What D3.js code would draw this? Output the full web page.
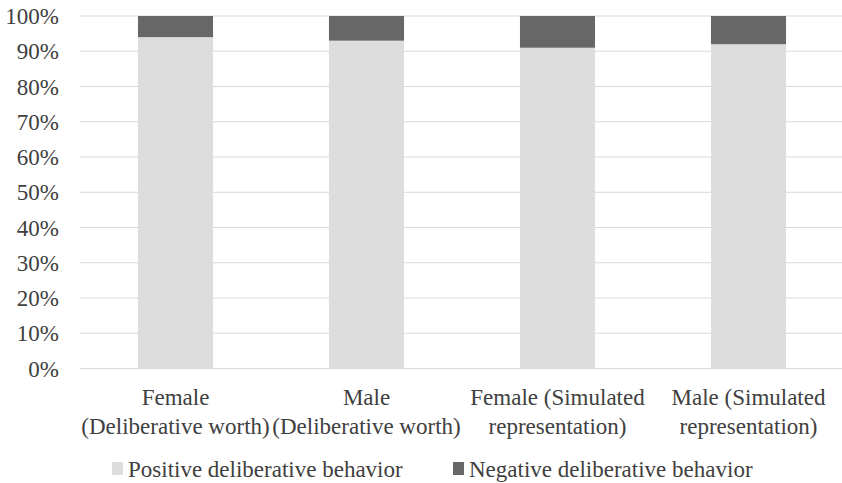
<!DOCTYPE html>
<html>
<head>
<meta charset="utf-8">
<script src="https://cdn.jsdelivr.net/npm/d3@7"></script>
<style>
  body { margin: 0; background: #fff; }
  svg text { fill: #404040; }
</style>
</head>
<body>
<svg id="chart" width="842" height="483"></svg>
<script>
// data
const categories = [
    ["Female", "(Deliberative worth)"],
    ["Male", "(Deliberative worth)"],
    ["Female (Simulated", "representation)"],
    ["Male (Simulated", "representation)"]
];
const positive = [94, 93, 91, 92];
const negative = [6, 7, 9, 8];
const seriesNames = ["Positive deliberative behavior", "Negative deliberative behavior"];
const seriesColors = ["#dddddd", "#676767"];
const yTicks = [0, 10, 20, 30, 40, 50, 60, 70, 80, 90, 100];

const FONT = "'Liberation Serif', 'Times New Roman', Tinos, 'DejaVu Serif', serif";

const svg = d3.select("#chart").attr("font-family", FONT);
const margin = { top: 16, left: 80, right: -2, bottom: 114.5 };
const width = 842 - margin.left - margin.right,
    height = 483 - margin.top - margin.bottom;

const g = svg.append("g").attr("transform", `translate(${margin.left},${margin.top})`);

const x = d3.scaleBand()
    .domain(d3.range(categories.length))
    .range([0, width])
    .paddingInner(0.607)
    .paddingOuter(0.3035);

const y = d3.scaleLinear().domain([0, 100]).range([height, 0]);

// gridlines
g.selectAll("line.grid")
    .data(yTicks)
    .join("line")
    .attr("class", "grid")
    .attr("x1", 0).attr("x2", width)
    .attr("y1", d => y(d)).attr("y2", d => y(d))
    .attr("stroke", "#d9d9d9")
    .attr("stroke-width", 1.2);

// y tick labels
g.selectAll("text.ytick")
    .data(yTicks)
    .join("text")
    .attr("class", "ytick")
    .attr("x", -21)
    .attr("y", d => y(d))
    .attr("dy", "0.35em")
    .attr("text-anchor", "end")
    .attr("font-family", FONT)
    .attr("font-size", 23)
    .text(d => d + "%");

// stacked bars
const stacked = categories.map((c, i) => ({ i, pos: positive[i], neg: negative[i] }));

g.selectAll("rect.pos")
    .data(stacked)
    .join("rect")
    .attr("class", "pos")
    .attr("x", d => x(d.i))
    .attr("width", x.bandwidth())
    .attr("y", d => y(d.pos))
    .attr("height", d => y(0) - y(d.pos))
    .attr("fill", seriesColors[0]);

g.selectAll("rect.neg")
    .data(stacked)
    .join("rect")
    .attr("class", "neg")
    .attr("x", d => x(d.i))
    .attr("width", x.bandwidth())
    .attr("y", d => y(d.pos + d.neg))
    .attr("height", d => y(d.pos) - y(d.pos + d.neg))
    .attr("fill", seriesColors[1]);

// category labels
const labels = g.selectAll("text.cat")
    .data(categories)
    .join("text")
    .attr("class", "cat")
    .attr("text-anchor", "middle")
    .attr("font-family", FONT)
    .attr("font-size", 23)
    .attr("transform", (d, i) => `translate(${x(i) + x.bandwidth() / 2},${height})`);

labels.selectAll("tspan")
    .data(d => d)
    .join("tspan")
    .attr("x", 0)
    .attr("y", (d, j) => 36 + j * 29)
    .text(d => d);

// legend
const legendX = [112, 453];
const legend = svg.selectAll("g.legend")
    .data(seriesNames)
    .join("g")
    .attr("class", "legend")
    .attr("transform", (d, i) => `translate(${legendX[i]},462)`);

legend.append("rect")
    .attr("width", 11).attr("height", 13)
    .attr("fill", (d, i) => seriesColors[i]);

legend.append("text")
    .attr("x", 16)
    .attr("y", 14.5)
    .attr("font-family", FONT)
    .attr("font-size", 23)
    .text(d => d);
</script>
</body>
</html>
